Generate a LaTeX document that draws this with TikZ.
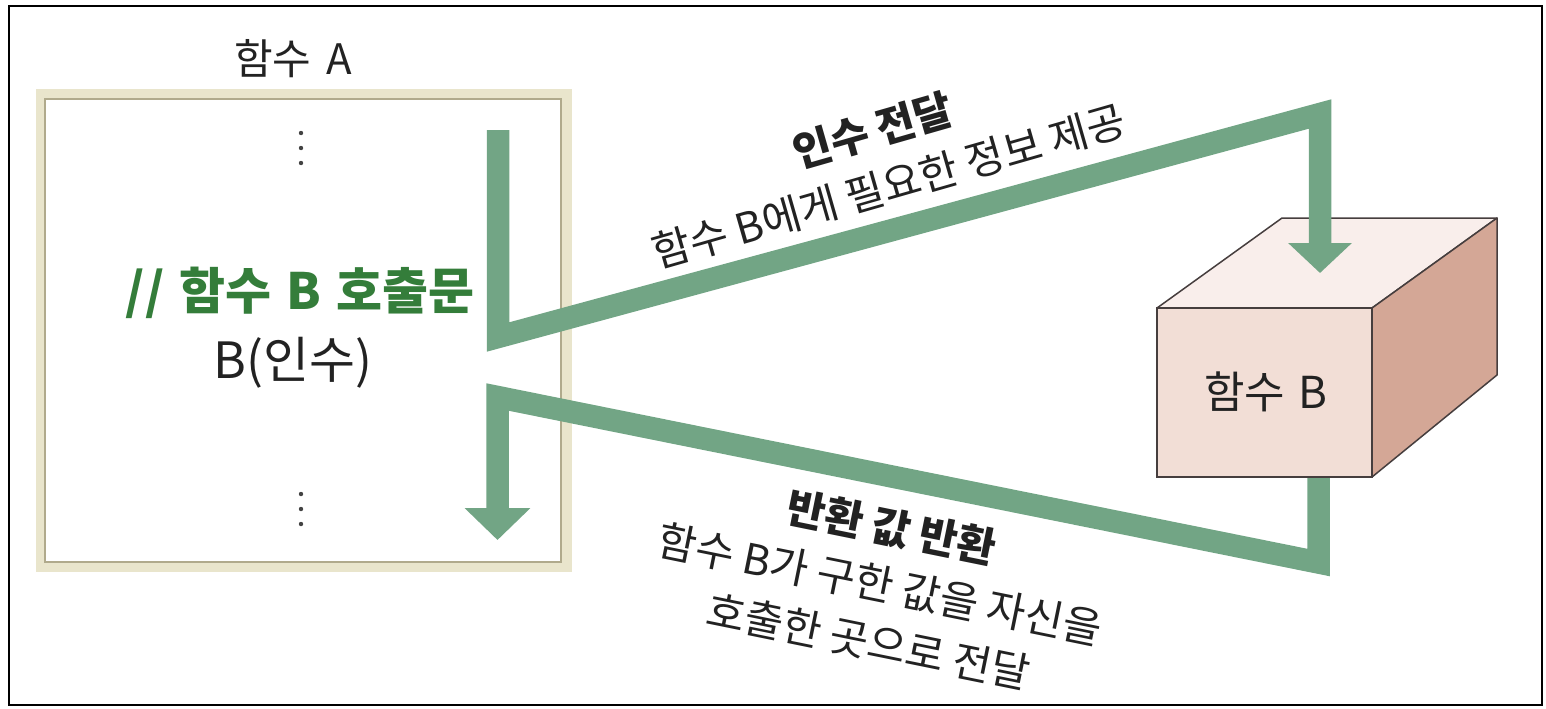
\documentclass[tikz,border=0pt]{standalone}
\usepackage{fontspec}
\setmainfont{Noto Sans CJK KR}
\usetikzlibrary{arrows.meta}
\definecolor{bandgreen}{RGB}{114,165,133}
\definecolor{codegreen}{RGB}{52,125,58}
\definecolor{beigeband}{RGB}{233,229,204}
\definecolor{beigeline}{RGB}{176,170,140}
\definecolor{cubefront}{RGB}{242,222,214}
\definecolor{cubetop}{RGB}{249,238,235}
\definecolor{cuberight}{RGB}{212,167,150}
\definecolor{cubeedge}{RGB}{70,62,62}
\definecolor{txt}{RGB}{34,34,34}
\tikzset{
  lbl/.style={inner sep=0pt, text=txt, align=center, font=\fontsize{21}{29}\selectfont},
  flowband/.style={draw=bandgreen, line width=11.25pt, line join=miter},
  dotmark/.style={fill=txt!85},
}
\begin{document}
\begin{tikzpicture}[x=0.5pt,y=-0.5pt]
\useasboundingbox (0,0) rectangle (1546,708);
% outer frame
\draw[line width=1pt, black] (9,6) rectangle (1542,705);

% function A box
\fill[beigeband] (36,89) rectangle (572,572);
\filldraw[fill=white, draw=beigeline, line width=0.75pt] (45,99) rectangle (561,562);
\node[inner sep=0pt, text=txt, font=\fontsize{21}{25}\selectfont] (titleA) at (293,59) {함수\hspace{0.35em}A};
\node[inner sep=0pt, text=codegreen, font=\bfseries\fontsize{25}{29}\selectfont] (callcomment) at (300,293) {//\hspace{0.3em}함수\hspace{0.3em}B\hspace{0.3em}호출문};
\node[inner sep=0pt, text=txt, font=\fontsize{25}{29}\selectfont] (callexpr) at (293,363) {B(인수)};
\foreach \yy in {133,148,163,494,509,524} \fill[dotmark] (301,\yy) circle (1.1pt);

% return band (under the cube)
\coordinate (r0) at (1318.5,470);
\coordinate (r1) at (1318.5,562.5);
\coordinate (r2) at (497.5,397);
\coordinate (r3) at (497.5,540);
\draw[flowband, -{Triangle[length=16pt,width=32pt]}] (r0) -- (r1) -- (r2) -- (r3);

% cube (function B)
\filldraw[fill=cubetop, draw=cubeedge, line width=0.75pt, line join=round] (1157,308) -- (1282,218) -- (1497,218) -- (1372,308) -- cycle;
\filldraw[fill=cuberight, draw=cubeedge, line width=0.75pt, line join=round] (1372,308) -- (1497,218) -- (1497,375) -- (1372,477) -- cycle;
\filldraw[fill=cubefront, draw=cubeedge, line width=0.75pt] (1157,308) rectangle (1372,477);
\node[inner sep=0pt, text=txt, font=\fontsize{22}{26}\selectfont] (funcB) at (1266,392) {함수\hspace{0.3em}B};

% call band (over the cube)
\coordinate (s0) at (498,130);
\coordinate (s1) at (498,337);
\coordinate (s2) at (1320,114);
\coordinate (s3) at (1320,273);
\draw[flowband, -{Triangle[length=15pt,width=31pt]}] (s0) -- (s1) -- (s2) -- (s3);

% labels
\node[lbl, rotate=16] (arglabel) at (880.5,158) {{\bfseries 인수 전달}\\함수 B에게 필요한 정보 제공};
\node[lbl, rotate=-11.5] (retlabel) at (880,584) {{\bfseries 반환 값 반환}\\함수 B가 구한 값을 자신을\\호출한 곳으로 전달};
\end{tikzpicture}
\end{document}
